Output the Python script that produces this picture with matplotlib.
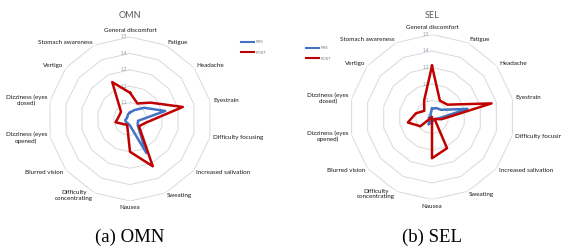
import numpy as np
import matplotlib.pyplot as plt
from matplotlib.lines import Line2D

# категории опросника (по часовой стрелке от верха)
categories = ['General discomfort', 'Fatigue', 'Headache', 'Eyestrain', 'Difficulty focusing',
              'Increased salivation', 'Sweating', 'Nausea', 'Difficulty\nconcentrating',
              'Blurred vision', 'Dizziness (eyes\nopened)', 'Dizziness (eyes\nclosed)',
              'Vertigo', 'Stomach awareness']

omn_pre = [1.04, 1.06, 1.11, 1.22, 1.05, 1.06, 1.23, 1.04, 1.03, 1.03, 1.03, 1.02, 1.02, 1.03]
omn_post = [1.16, 1.105, 1.16, 1.33, 1.10, 1.07, 1.32, 1.20, 1.04, 1.05, 1.09, 1.07, 1.07, 1.25]
sel_pre = [1.05, 1.06, 1.07, 1.22, 1.04, 1.02, 1.02, 1.03, 1.05, 1.01, 1.02, 1.01, 1.01, 1.02]
sel_post = [1.31, 1.11, 1.12, 1.37, 1.06, 1.02, 1.21, 1.25, 1.0, 1.09, 1.15, 1.10, 1.06, 1.11]

ring_levels = [1.1, 1.2, 1.3, 1.4, 1.5]
tick_levels = [1.0, 1.1, 1.2, 1.3, 1.4, 1.5]
tick_labels = ['1', '1.1', '1.2', '1.3', '1.4', '1.5']

pre_color = '#4472C4'
post_color = '#C00000'
label_font = ['Lato', 'DejaVu Sans']

W, H = 561, 252
fig = plt.figure(figsize=(W / 100, H / 100), dpi=100)


def radar(center, radius, title, pre, post, legend_xy, caption):
    cx, cy = center
    ax = fig.add_axes([(cx - radius) / W, (H - cy - radius) / H, 2 * radius / W, 2 * radius / H],
                      projection='polar')
    ax.set_theta_zero_location('N')
    ax.set_theta_direction(-1)
    ax.set_ylim(1.0, 1.5)
    ax.grid(False)
    ax.set_xticks([])
    ax.set_yticks([])
    ax.spines['polar'].set_visible(False)
    ax.patch.set_alpha(0)

    n = len(categories)
    theta = np.arange(n) * 2 * np.pi / n
    theta_c = np.append(theta, theta[0])

    # многоугольная сетка как в Excel
    for lvl in ring_levels:
        ax.plot(theta_c, [lvl] * (n + 1), color='#D9D9D9', lw=0.7, zorder=1)

    for lvl, txt in zip(tick_levels, tick_labels):
        ax.annotate(txt, xy=(0, lvl), xytext=(-2, 0), textcoords='offset points',
                    ha='right', va='center', fontsize=3.3, color='#8496B0', family=label_font)

    ax.plot(theta_c, pre + pre[:1], color=pre_color, lw=1.8, zorder=3)
    ax.plot(theta_c, post + post[:1], color=post_color, lw=1.8, zorder=4)

    # подписи категорий у вершин внешнего кольца
    for t, name in zip(theta, categories):
        deg = np.degrees(t)
        va = 'center'
        if 5 < deg < 175:
            ha = 'left'
        elif 185 < deg < 355:
            ha = 'right'
        else:
            ha = 'center'
            va = 'bottom' if deg < 90 else 'top'
        gap = 2.9 if ha == 'center' else 2.2
        ax.annotate(name, xy=(t, 1.5), xytext=(gap * np.sin(t), gap * np.cos(t)),
                    textcoords='offset points', ha=ha, va=va, fontsize=4.5,
                    color='#1a1a1a', family=label_font, multialignment='center',
                    annotation_clip=False)

    fig.text(cx / W, 1 - 15 / H, title, ha='center', va='center', fontsize=6.5,
             color='#595959', family=label_font)

    handles = [Line2D([], [], color=pre_color, lw=1.5), Line2D([], [], color=post_color, lw=1.5)]
    fig.legend(handles, ['PRE', 'POST'], loc='upper left',
               bbox_to_anchor=(legend_xy[0] / W, 1 - legend_xy[1] / H),
               frameon=False, fontsize=3, handlelength=3, labelspacing=1.6,
               handletextpad=0.5, borderpad=0, labelcolor='#7F7F7F')

    fig.text(cx / W, 1 - 237 / H, caption, ha='center', va='center', fontsize=13.5,
             family='Liberation Serif')


radar((130, 119), 82, 'OMN', omn_pre, omn_post, (239, 38), '(a) OMN')
radar((432, 117), 82.5, 'SEL', sel_pre, sel_post, (304, 44), '(b) SEL')

plt.savefig('out.png', dpi=100)
plt.close(fig)
